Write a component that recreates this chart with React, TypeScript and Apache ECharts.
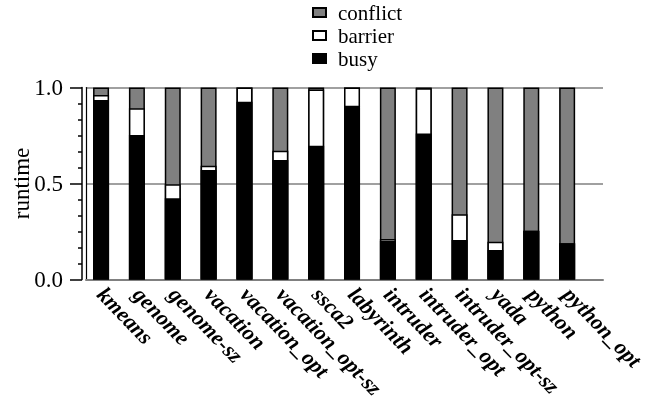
import React, { useEffect, useRef } from "react";
import * as echarts from "echarts";

const categories = [
  "kmeans", "genome", "genome-sz", "vacation", "vacation_opt", "vacation_opt-sz",
  "ssca2", "labyrinth", "intruder", "intruder_opt", "intruder_opt-sz", "yada",
  "python", "python_opt",
];
const busy = [0.935, 0.753, 0.423, 0.57, 0.926, 0.622, 0.697, 0.905, 0.202, 0.761, 0.206, 0.154, 0.254, 0.189];
const barrier = [0.026, 0.139, 0.073, 0.023, 0.074, 0.049, 0.293, 0.095, 0.009, 0.235, 0.134, 0.043, 0, 0];
const conflict = [0.039, 0.108, 0.504, 0.407, 0, 0.329, 0.01, 0, 0.789, 0.004, 0.66, 0.803, 0.746, 0.811];

const FONT = "Liberation Serif";

export default function App() {
  const ref = useRef<HTMLDivElement>(null);
  useEffect(() => {
    if (!ref.current) return;
    const chart = echarts.init(ref.current, undefined, { renderer: "svg" });
    const idx = categories.map((_, i) => i);
    const cumBarrier = busy.map((b, i) => b + barrier[i]);
    const cumConflict = busy.map((b, i) => b + barrier[i] + conflict[i]);
    const border = { borderColor: "#000", borderWidth: 1.5 };
    chart.setOption({
      animation: false,
      legend: {
        orient: "vertical",
        left: 312,
        top: 2,
        padding: 0,
        itemWidth: 13,
        itemHeight: 9,
        itemGap: 2,
        icon: "rect",
        data: ["conflict", "barrier", "busy"],
        textStyle: { fontFamily: FONT, fontSize: 21, color: "#000", lineHeight: 21, padding: [0, 0, 0, 7] },
      },
      grid: { left: 86, right: 44, top: 87.5, bottom: 129.5, containLabel: false, outerBoundsMode: "none" },
      xAxis: {
        type: "value",
        min: -0.42,
        max: 14,
        splitLine: { show: false },
        axisTick: { show: false },
        axisLine: { show: true, onZero: false, lineStyle: { color: "#808080", width: 2 } },
        axisLabel: {
          customValues: idx,
          formatter: (v: number) => categories[Math.round(v)] ?? "",
          rotate: -46,
          margin: 11,
          fontFamily: FONT,
          fontSize: 22,
          fontWeight: "bold",
          fontStyle: "italic",
          color: "#000",
          hideOverlap: false,
        },
      },
      yAxis: [
        {
          type: "value",
          min: 0,
          max: 1,
          interval: 0.5,
          offset: 4,
          name: "runtime",
          nameLocation: "middle",
          nameRotate: 90,
          nameGap: 49,
          nameMoveOverlap: false,
          nameTextStyle: { fontFamily: FONT, fontSize: 23, color: "#000" },
          axisLine: { show: true, onZero: false, lineStyle: { color: "#000", width: 1.5 } },
          axisTick: { show: true, length: 12, lineStyle: { color: "#000", width: 1.5 } },
          minorTick: { show: true, splitNumber: 6, length: 4, lineStyle: { color: "#000", width: 1.5 } },
          axisLabel: {
            margin: 19,
            fontFamily: FONT,
            fontSize: 23,
            color: "#000",
            formatter: (v: number) => v.toFixed(1),
          },
          splitLine: { show: true, lineStyle: { color: "#a0a0a0", width: 2 } },
        },
        {
          type: "value",
          min: 0,
          max: 1,
          position: "left",
          offset: 0,
          axisLine: { show: true, onZero: false, lineStyle: { color: "#000", width: 1.2 } },
          axisTick: { show: false },
          axisLabel: { show: false },
          splitLine: { show: false },
        },
      ],
      series: [
        {
          name: "conflict",
          type: "bar",
          barWidth: 16,
          barGap: "-100%",
          itemStyle: { color: "#808080", ...border },
          data: idx.map((i) => [i, cumConflict[i]]),
        },
        {
          name: "barrier",
          type: "bar",
          barWidth: 16,
          barGap: "-100%",
          itemStyle: { color: "#ffffff", ...border },
          data: idx.map((i) => [i, cumBarrier[i]]),
        },
        {
          name: "busy",
          type: "bar",
          barWidth: 16,
          barGap: "-100%",
          itemStyle: { color: "#000000", ...border },
          data: idx.map((i) => [i, busy[i]]),
        },
      ],
    });
    return () => chart.dispose();
  }, []);
  return <div ref={ref} style={{ position: "fixed", left: 0, top: 0, width: 647, height: 409 }} />;
}
